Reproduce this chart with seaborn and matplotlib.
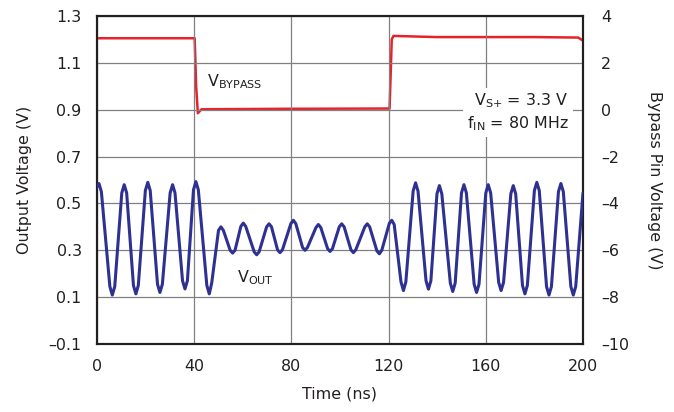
import matplotlib
matplotlib.use("Agg")
import matplotlib.pyplot as plt
import seaborn as sns
import pandas as pd

# ---- data (peaks, troughs and their shoulders) ----
vout_time = [0, 0.8, 1.8, 5.3, 6.3, 7.3, 10.2, 11.2, 12.2, 15.0, 16.0, 17.0,
             19.9, 20.9, 21.9, 24.9, 25.9, 26.9, 30.1, 31.1, 32.1, 35.2, 36.2, 37.2,
             39.7, 40.7, 41.7, 45.2, 46.2, 47.2, 50.0, 51.0, 52.0, 54.8, 55.8, 56.8,
             59.2, 60.2, 61.2, 64.7, 65.7, 66.7, 69.8, 70.8, 71.8, 74.3, 75.3, 76.3,
             79.8, 80.8, 81.8, 84.6, 85.6, 86.6, 90.1, 91.1, 92.1, 94.9, 95.9, 96.9,
             99.7, 100.7, 101.7, 104.5, 105.5, 106.5, 110.2, 111.2, 112.2, 115.2, 116.2, 117.2,
             120.3, 121.3, 122.3, 125.1, 126.1, 127.1, 130.1, 131.1, 132.1, 135.4, 136.4, 137.4,
             139.9, 140.9, 141.9, 145.4, 146.4, 147.4, 150.0, 151.0, 152.0, 155.2, 156.2, 157.2,
             160.0, 161.0, 162.0, 165.3, 166.3, 167.3, 170.3, 171.3, 172.3, 175.1, 176.1, 177.1,
             180.0, 181.0, 182.0, 185.0, 186.0, 187.0, 189.9, 190.9, 191.9, 195.0, 196.0, 197.0,
             200]
vout_volts = [0.57, 0.585, 0.55, 0.145, 0.109, 0.145, 0.545, 0.58, 0.545, 0.15, 0.114, 0.15,
              0.555, 0.59, 0.555, 0.155, 0.12, 0.155, 0.545, 0.58, 0.545, 0.17, 0.135, 0.17,
              0.558, 0.593, 0.558, 0.15, 0.114, 0.16, 0.385, 0.40, 0.385, 0.30, 0.288, 0.30,
              0.402, 0.416, 0.402, 0.293, 0.281, 0.293, 0.40, 0.413, 0.40, 0.302, 0.29, 0.302,
              0.414, 0.428, 0.414, 0.312, 0.30, 0.312, 0.397, 0.41, 0.397, 0.307, 0.295, 0.307,
              0.40, 0.413, 0.40, 0.302, 0.29, 0.302, 0.40, 0.413, 0.40, 0.297, 0.285, 0.30,
              0.415, 0.428, 0.41, 0.165, 0.128, 0.165, 0.553, 0.588, 0.553, 0.17, 0.134, 0.17,
              0.541, 0.576, 0.541, 0.16, 0.124, 0.16, 0.545, 0.58, 0.545, 0.155, 0.12, 0.155,
              0.545, 0.58, 0.545, 0.163, 0.128, 0.163, 0.541, 0.576, 0.541, 0.15, 0.114, 0.15,
              0.555, 0.59, 0.555, 0.145, 0.109, 0.145, 0.55, 0.585, 0.55, 0.145, 0.109, 0.145,
              0.545]

bypass_time = [0, 40.2, 40.8, 41.5, 43, 80, 119, 120.4, 121.3, 122, 140, 180, 198, 200]
bypass_volts = [3.05, 3.05, 1.0, -0.15, 0.02, 0.04, 0.05, 0.05, 3.0, 3.15, 3.1, 3.1, 3.08, 2.95]

x_ticks = [0, 40, 80, 120, 160, 200]
left_ticks = [-0.1, 0.1, 0.3, 0.5, 0.7, 0.9, 1.1, 1.3]
right_ticks = [-10, -8, -6, -4, -2, 0, 2, 4]

sns.set_theme(style="white")
FONT = "DejaVu Sans"
plt.rcParams["font.family"] = [FONT]
plt.rcParams["mathtext.fontset"] = "custom"
plt.rcParams["mathtext.rm"] = FONT

FS = 11.4
fig = plt.figure(figsize=(6.74, 4.12), dpi=100)
ax = fig.add_axes([97/674, 1 - 344/412, (583-97)/674, (344-16)/412])
ax2 = ax.twinx()

df_out = pd.DataFrame({"t": vout_time, "v": vout_volts})
df_byp = pd.DataFrame({"t": bypass_time, "v": bypass_volts})

sns.lineplot(data=df_out, x="t", y="v", ax=ax, color="#2e3192", lw=2.2,
             estimator=None, sort=False, solid_joinstyle="round", zorder=3)
sns.lineplot(data=df_byp, x="t", y="v", ax=ax2, color="#e8222b", lw=1.8,
             estimator=None, sort=False, zorder=3)

ax.set_xlim(0, 200)
ax.set_ylim(-0.1, 1.3)
ax2.set_ylim(-10, 4)
ax.set_xticks(x_ticks)
ax.set_yticks(left_ticks)
ax2.set_yticks(right_ticks)
ax.set_xticklabels([str(v) for v in x_ticks], fontsize=FS)
ax.set_yticklabels([f"{v:.1f}".replace("-", "\u2013") for v in left_ticks], fontsize=FS)
ax2.set_yticklabels([str(v).replace("-", "\u2013") for v in right_ticks], fontsize=FS)

ax.grid(True, color="#808080", lw=0.9)
ax.set_axisbelow(True)
ax2.grid(False)
ax.set_zorder(ax2.get_zorder() + 1)
ax.patch.set_visible(False)

for a in (ax, ax2):
    for s in a.spines.values():
        s.set_color("#231f20")
        s.set_linewidth(1.5)
    a.tick_params(axis="both", length=0, colors="#231f20")
ax.tick_params(axis="x", pad=11)
ax.tick_params(axis="y", pad=11)
ax2.tick_params(axis="y", pad=13)

ax.set_xlabel("Time (ns)", fontsize=FS, color="#231f20", labelpad=9)
ax.set_ylabel("Output Voltage (V)", fontsize=FS, color="#231f20", labelpad=12)
ax2.set_ylabel("Bypass Pin Voltage (V)", fontsize=FS, color="#231f20",
               rotation=270, labelpad=24)

ax.text(45.3, 1.02, r"$\mathregular{V_{BYPASS}}$", fontsize=FS, color="#231f20",
        va="center", ha="left")
ax.text(57.5, 0.182, r"$\mathregular{V_{OUT}}$", fontsize=FS, color="#231f20",
        va="center", ha="left")
ax.text(194, 0.888, "$\\mathregular{V_{S{+}}}$ = 3.3 V\n$\\mathregular{f_{IN}}$ = 80 MHz",
        fontsize=FS, color="#231f20", va="center", ha="right", linespacing=1.3,
        bbox=dict(facecolor="white", edgecolor="none", pad=3), zorder=4)

fig.savefig("out.png", dpi=100)
